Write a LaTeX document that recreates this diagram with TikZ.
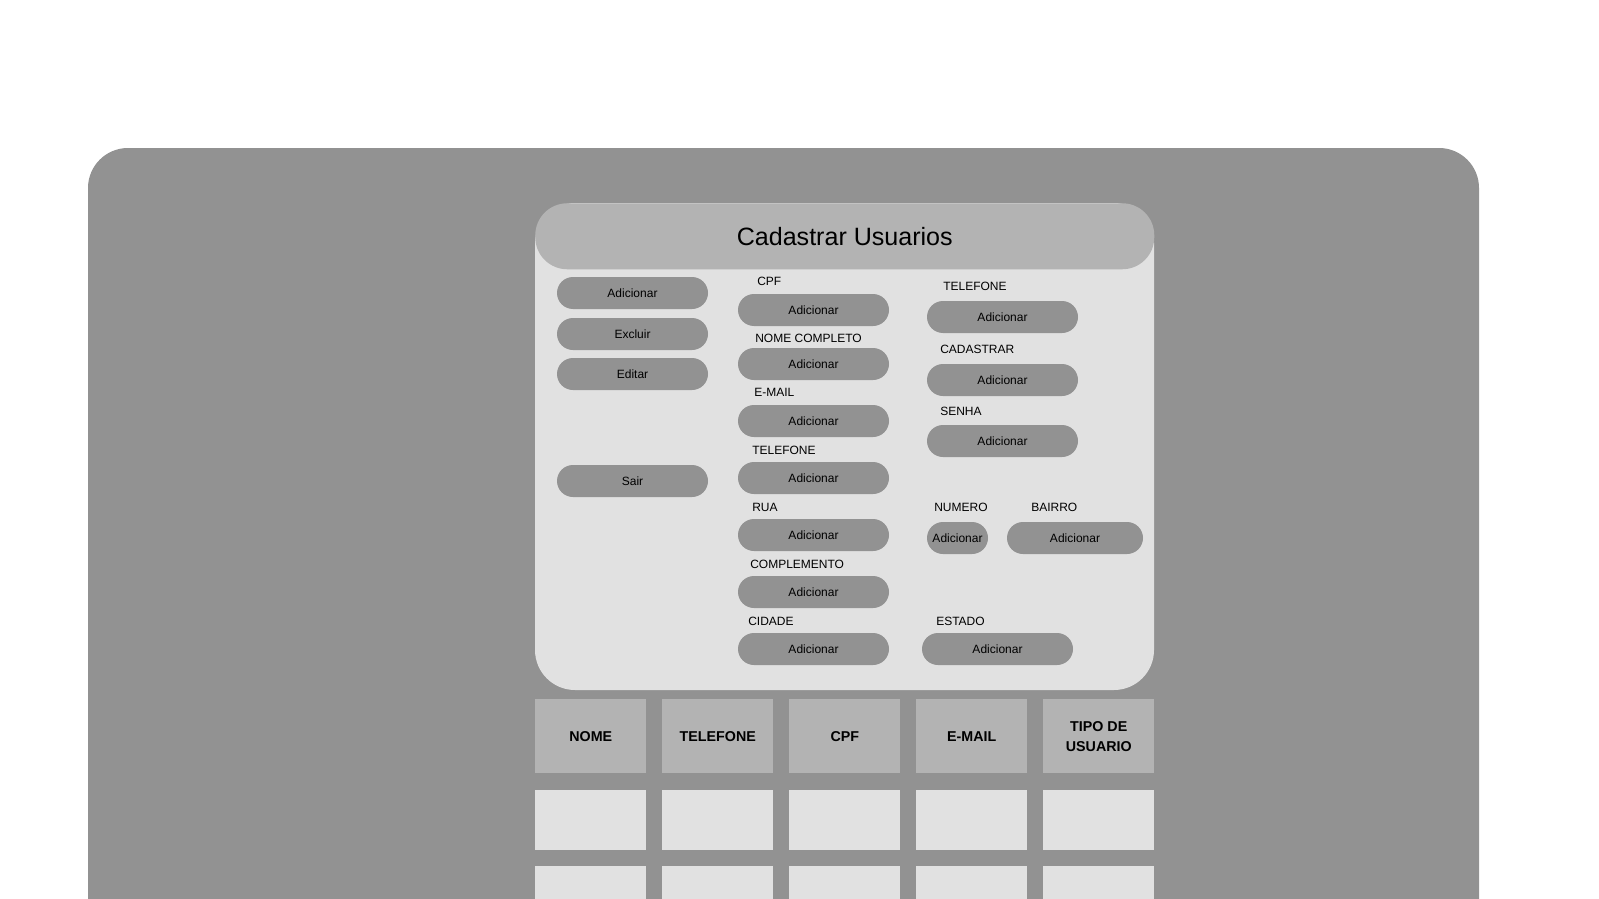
\documentclass[tikz,border=0pt]{standalone}
\usepackage{fontspec}
\setmainfont{Liberation Sans}
\newcommand{\px}{0.75pt}
\definecolor{darkgray}{HTML}{929292}
\definecolor{midgray}{HTML}{B3B3B3}
\definecolor{lightgray}{HTML}{E1E1E1}

\begin{document}
\begin{tikzpicture}[x=\px, y=-\px,
    btn/.style={fill=darkgray, rounded corners=12pt, minimum width=151*\px, minimum height=32*\px, inner sep=0pt, font=\fontsize{9}{10}\selectfont},
    lbl/.style={anchor=west, inner sep=0pt, font=\fontsize{9}{10}\selectfont},
    head/.style={fill=midgray, anchor=north west, minimum width=111*\px, minimum height=74*\px, inner sep=0pt, align=center, font=\fontsize{10.7}{15}\selectfont\bfseries},
    cell/.style={fill=lightgray, anchor=north west, minimum width=111*\px, minimum height=60*\px, inner sep=0pt}]
    \clip (0,0) rectangle (1599,899);
    \fill[white] (0,0) rectangle (1599,899);

    % Frame
    \fill[darkgray, rounded corners=30pt] (88,148) rectangle (1479,980);
    \fill[lightgray, rounded corners=30pt] (535,203) rectangle (1154,690);
    \node[fill=midgray, rounded corners=24pt, anchor=north west, minimum width=619*\px, minimum height=66*\px, inner sep=0pt, font=\fontsize{18.8}{20}\selectfont] (title) at (535,203) {Cadastrar Usuarios};

    % Left column
    \node[btn] (add) at (632.5,293) {Adicionar};
    \node[btn] (del) at (632.5,334) {Excluir};
    \node[btn] (edit) at (632.5,374) {Editar};
    \node[btn] (quit) at (632.5,481) {Sair};

    % Middle column
    \node[lbl] (cpf-l) at (757,281) {CPF};
    \node[btn] (cpf) at (813.5,310) {Adicionar};
    \node[lbl] (nome-l) at (755,338) {NOME COMPLETO};
    \node[btn] (nome) at (813.5,364) {Adicionar};
    \node[lbl] (email-l) at (754,392) {E-MAIL};
    \node[btn] (email) at (813.5,421) {Adicionar};
    \node[lbl] (tel-l) at (752,450) {TELEFONE};
    \node[btn] (tel) at (813.5,478) {Adicionar};
    \node[lbl] (rua-l) at (752,507) {RUA};
    \node[btn] (rua) at (813.5,535) {Adicionar};
    \node[lbl] (compl-l) at (750,564) {COMPLEMENTO};
    \node[btn] (compl) at (813.5,592) {Adicionar};
    \node[lbl] (cidade-l) at (748,621) {CIDADE};
    \node[btn] (cidade) at (813.5,649) {Adicionar};

    % Right column
    \node[lbl] (tel2-l) at (943,286) {TELEFONE};
    \node[btn] (tel2) at (1002.5,317) {Adicionar};
    \node[lbl] (cad-l) at (940,349) {CADASTRAR};
    \node[btn] (cad) at (1002.5,380) {Adicionar};
    \node[lbl] (senha-l) at (940,411) {SENHA};
    \node[btn] (senha) at (1002.5,441) {Adicionar};
    \node[lbl] (num-l) at (934,507) {NUMERO};
    \node[btn, minimum width=61*\px] (num) at (957.5,538) {Adicionar};
    \node[lbl] (bairro-l) at (1031,507) {BAIRRO};
    \node[btn, minimum width=136*\px] (bairro) at (1075,538) {Adicionar};
    \node[lbl] (estado-l) at (936,621) {ESTADO};
    \node[btn] (estado) at (997.5,649) {Adicionar};

    % Table
    \node[head] (head-1) at (535,699) {NOME};
    \node[head] (head-2) at (662,699) {TELEFONE};
    \node[head] (head-3) at (789,699) {CPF};
    \node[head] (head-4) at (916,699) {E-MAIL};
    \node[head] (head-5) at (1043,699) {TIPO DE\\USUARIO};
    \foreach \c in {1,...,5} {
        \node[cell] (row-1-\c) at (535+127*\c-127,790) {};
        \node[cell] (row-2-\c) at (535+127*\c-127,866) {};
    }
\end{tikzpicture}
\end{document}
